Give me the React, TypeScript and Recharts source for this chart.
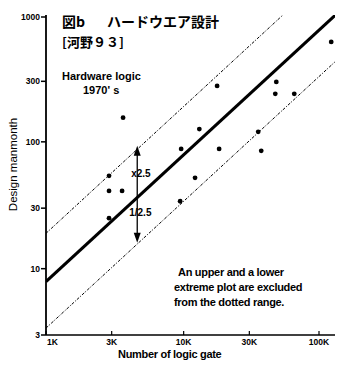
import React from 'react'
import { ComposedChart, Line, Scatter, XAxis, YAxis, ReferenceLine } from 'recharts'

// design data points (logic gates vs. design manmonth)
const gates = [2870, 2870, 3570, 2870, 3630, 9430, 9590, 12100, 13000, 17500, 18100, 34800, 36600, 46300, 47100, 63600, 118000]
const manmonths = [54, 41, 41, 25, 155, 34, 88, 52, 126, 276, 88, 120, 85, 239, 297, 239, 613]

// fitted line and the x2.5 / 1/2.5 band, given at both ends of the x range
const lineGates = [1000, 130000]
const fitLine = [7.9, 1027]
const upperLine = [19, 2470]
const lowerLine = [3.4, 442]

// arrow showing the band width
const arrowGate = 4600
const arrowRange = [93, 16]

const xTicks = [1000, 3000, 10000, 30000, 100000]
const xTickLabels = ['1K', '3K', '10K', '30K', '100K']
const yTicks = [3, 10, 30, 100, 300, 1000]

const points = gates.map((g, i) => ({ x: g, y: manmonths[i] }))
const toLine = (vals: number[]) => lineGates.map((g, i) => ({ x: g, y: vals[i] }))

const tickFont = '"Liberation Sans", Arial, sans-serif'

const YTick = (props: any) => {
  const { x, y, payload } = props
  return (
    <g>
      <line x1={x - 5} x2={x} y1={y} y2={y} stroke="#000" strokeWidth={1.5} />
      <text x={x - 6} y={y + 3} textAnchor="end" fontSize={8.5} fontWeight="bold" fontFamily={tickFont} fill="#000">
        {payload.value}
      </text>
    </g>
  )
}

const XTick = (props: any) => {
  const { x, y, payload } = props
  const idx = xTicks.indexOf(payload.value)
  const first = idx === 0
  return (
    <g>
      <line x1={x} x2={x} y1={y - 4} y2={y} stroke="#000" strokeWidth={1.2} />
      <text x={first ? x + 1 : x} y={y + 10} textAnchor={first ? 'start' : 'middle'} fontSize={8.5} fontWeight="bold" fontFamily={tickFont} fill="#000">
        {xTickLabels[idx]}
      </text>
    </g>
  )
}

const ArrowShape = (props: any) => {
  const { x1, y1, x2, y2 } = props
  const top = Math.min(y1, y2)
  const bot = Math.max(y1, y2)
  return (
    <g>
      <line x1={x1} x2={x2} y1={top + 4} y2={bot - 4} stroke="#000" strokeWidth={1.3} />
      <path d={`M${x1},${top} L${x1 - 3.5},${top + 10} L${x1 + 3.5},${top + 10} Z`} fill="#000" />
      <path d={`M${x1},${bot} L${x1 - 3.5},${bot - 10} L${x1 + 3.5},${bot - 10} Z`} fill="#000" />
      <text x={x1 - 6} y={top + 31} fontSize={10} fontWeight="bold" fontFamily={tickFont} fill="#000">x2.5</text>
      <text x={x1 - 8} y={top + 70} fontSize={10} fontWeight="bold" fontFamily={tickFont} fill="#000">1/2.5</text>
    </g>
  )
}

const txt: React.CSSProperties = {
  position: 'absolute',
  fontFamily: '"Liberation Sans", Arial, sans-serif',
  fontWeight: 'bold',
  fontSize: 11,
  color: '#000',
  whiteSpace: 'nowrap',
  lineHeight: '15px',
}
const cjk: React.CSSProperties = { ...txt, fontFamily: '"Noto Sans CJK JP", sans-serif', fontSize: 14, lineHeight: '14px' }

const App: React.FC = () => {
  return (
    <div style={{ position: 'relative', width: 335, height: 363, background: '#fff' }}>
      <ComposedChart width={335} height={363} margin={{ top: 7, right: 6, left: 0, bottom: 0 }}>
        <XAxis
          type="number"
          dataKey="x"
          scale="log"
          domain={[1000, 130000]}
          allowDataOverflow
          ticks={xTicks}
          height={36}
          tickSize={0}
          tickMargin={0}
          tickLine={false}
          tick={<XTick />}
          axisLine={{ stroke: '#000', strokeWidth: 1.5 }}
        />
        <YAxis
          type="number"
          dataKey="y"
          scale="log"
          domain={[3, 1000]}
          allowDataOverflow
          ticks={yTicks}
          width={38}
          tickSize={0}
          tickMargin={0}
          tickLine={false}
          tick={<YTick />}
          axisLine={{ stroke: '#000', strokeWidth: 1.8 }}
        />
        <Line data={toLine(upperLine)} dataKey="y" stroke="#000" strokeWidth={1} strokeDasharray="3 1.5 1 1.5" dot={false} isAnimationActive={false} />
        <Line data={toLine(lowerLine)} dataKey="y" stroke="#000" strokeWidth={1} strokeDasharray="3 1.5 1 1.5" dot={false} isAnimationActive={false} />
        <Line data={toLine(fitLine)} dataKey="y" stroke="#000" strokeWidth={3} dot={false} isAnimationActive={false} />
        <Scatter data={points} fill="#000" shape={(p: any) => <circle cx={p.cx} cy={p.cy} r={2.4} fill="#000" />} isAnimationActive={false} />
        <ReferenceLine
          segment={[{ x: arrowGate, y: arrowRange[0] }, { x: arrowGate, y: arrowRange[1] }]}
          stroke="#000"
          shape={<ArrowShape />}
        />
      </ComposedChart>

      <div style={{ ...cjk, left: 54, top: 6 }}>図b</div>
      <div style={{ ...cjk, left: 99, top: 6 }}>ハードウエア設計</div>
      <div style={{ ...cjk, left: 54, top: 27, fontSize: 13, lineHeight: '13px' }}>[河野９３]</div>

      <div style={{ ...txt, left: 54, top: 61 }}>Hardware logic</div>
      <div style={{ ...txt, left: 75, top: 75 }}>1970' s</div>

      <div style={{ ...txt, left: 170, top: 257, letterSpacing: -0.3 }}>An upper and a lower</div>
      <div style={{ ...txt, left: 166, top: 272, letterSpacing: -0.3 }}>extreme plot are excluded</div>
      <div style={{ ...txt, left: 166, top: 287, letterSpacing: -0.3 }}>from the dotted range.</div>

      <div style={{ ...txt, left: 110, top: 339, letterSpacing: -0.3 }}>Number of logic gate</div>
      <div
        style={{
          ...txt,
          fontWeight: 'normal',
          fontSize: 11.5,
          left: 5 - 50,
          top: 156 - 7,
          width: 100,
          textAlign: 'center',
          transform: 'rotate(-90deg)',
        }}
      >
        Design manmonth
      </div>
    </div>
  )
}

export default App
